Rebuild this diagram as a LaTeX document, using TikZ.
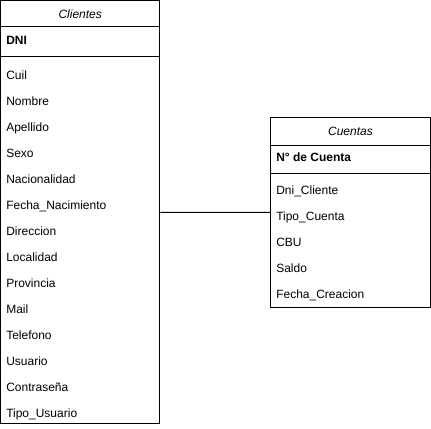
\documentclass[tikz,border=0pt]{standalone}
\usepackage{fontspec}
\setmainfont{Liberation Sans}
\begin{document}
\begin{tikzpicture}[x=0.75pt,y=-0.75pt,font=\fontsize{9}{11}\selectfont,
	tabla/.style={draw,line width=0.75pt,inner sep=0pt},
	campo/.style={anchor=base west,inner sep=0pt},
	clave/.style={campo,font=\fontsize{9}{11}\selectfont\bfseries},
	titulo/.style={anchor=base,inner sep=0pt,font=\fontsize{9}{11}\selectfont\itshape}]
	\useasboundingbox (0,0) rectangle (431,428);
	\node[tabla,minimum width=119.6pt,minimum height=317.6pt] (clientes) at (80.25,212.25) {};
	\node[tabla,minimum width=120pt,minimum height=142.5pt] (cuentas) at (350.5,212.5) {};
	\draw[line width=0.75pt] (clientes.west |- 0,27) -- (clientes.east |- 0,27);
	\draw[line width=0.75pt] (clientes.west |- 0,57) -- (clientes.east |- 0,57);
	\draw[line width=0.75pt] (cuentas.west |- 0,145) -- (cuentas.east |- 0,145);
	\draw[line width=0.75pt] (cuentas.west |- 0,173) -- (cuentas.east |- 0,173);
	\node[titulo] (tclientes) at (80.25,19) {Clientes};
	\node[clave] (dni) at (6,45) {DNI};
	\foreach \campo [count=\i from 0] in {Cuil,Nombre,Apellido,Sexo,Nacionalidad,Fecha\_Nacimiento,Direccion,Localidad,Provincia,Mail,Telefono,Usuario,Contraseña,Tipo\_Usuario}
		\node[campo] (c\i) at (6,79.3+26*\i) {\campo};
	\node[titulo] (tcuentas) at (350.5,135.5) {Cuentas};
	\node[clave] (nro) at (276,161) {N° de Cuenta};
	\foreach \campo [count=\i from 0] in {Dni\_Cliente,Tipo\_Cuenta,CBU,Saldo,Fecha\_Creacion}
		\node[campo] (k\i) at (276,194.3+26*\i) {\campo};
	\draw[line width=0.75pt] (clientes) -- (cuentas);
\end{tikzpicture}
\end{document}
